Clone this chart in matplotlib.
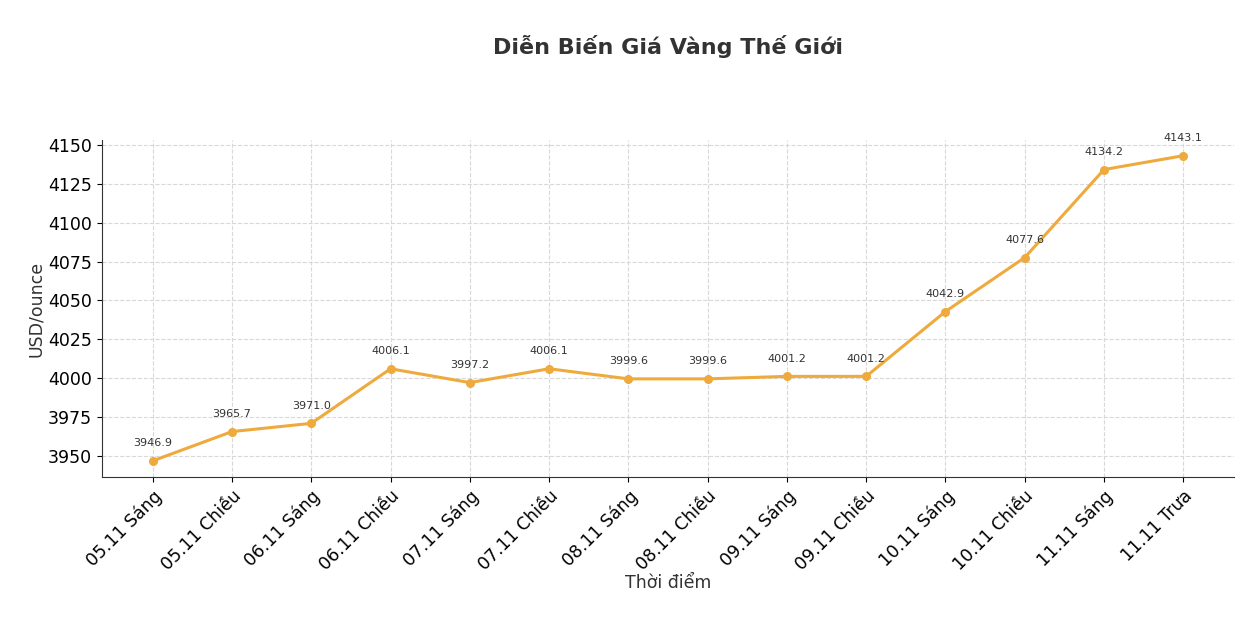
import matplotlib
matplotlib.use("Agg")
import matplotlib.pyplot as plt

times = ["05.11 Sáng", "05.11 Chiều", "06.11 Sáng", "06.11 Chiều", "07.11 Sáng",
         "07.11 Chiều", "08.11 Sáng", "08.11 Chiều", "09.11 Sáng", "09.11 Chiều",
         "10.11 Sáng", "10.11 Chiều", "11.11 Sáng", "11.11 Trưa"]
prices = [3946.9, 3965.7, 3971.0, 4006.1, 3997.2, 4006.1, 3999.6, 3999.6,
          4001.2, 4001.2, 4042.9, 4077.6, 4134.2, 4143.1]

fig = plt.figure(figsize=(12.48, 6.34), dpi=100)
ax = fig.add_axes([102 / 1248, 1 - 477 / 634, 1132 / 1248, 337 / 634])

x = list(range(len(times)))
ax.plot(x, prices, color="#eeaa3c", lw=2.2, marker="o", ms=5.5)
for xi, p in zip(x, prices):
    ax.annotate(f"{p:.1f}", (xi, p), xytext=(0, 9), textcoords="offset points",
                ha="center", va="bottom", fontsize=8, color="#333333")

ax.set_xlim(-0.64, 13.64)
ax.set_ylim(3936.5, 4153.2)
ax.set_yticks(range(3950, 4151, 25))
ax.set_xticks(x)
ax.set_xticklabels(times, rotation=45, ha="right", rotation_mode="anchor", fontsize=12.5)
ax.tick_params(axis="y", labelsize=12.5)
ax.grid(True, ls="--", color="#d8d8d8", lw=0.8)
ax.set_axisbelow(True)
for s in ["top", "right"]:
    ax.spines[s].set_visible(False)
for s in ["left", "bottom"]:
    ax.spines[s].set_color("#333333")
ax.set_xlabel("Thời điểm", fontsize=12.5, color="#333333", labelpad=0)
ax.set_ylabel("USD/ounce", fontsize=12.5, color="#333333", labelpad=2)
fig.text(0.535, 1 - 47 / 634, "Diễn Biến Giá Vàng Thế Giới", ha="center", va="center",
         fontsize=16, fontweight="bold", color="#333333")

fig.savefig("out.png", dpi=100)
